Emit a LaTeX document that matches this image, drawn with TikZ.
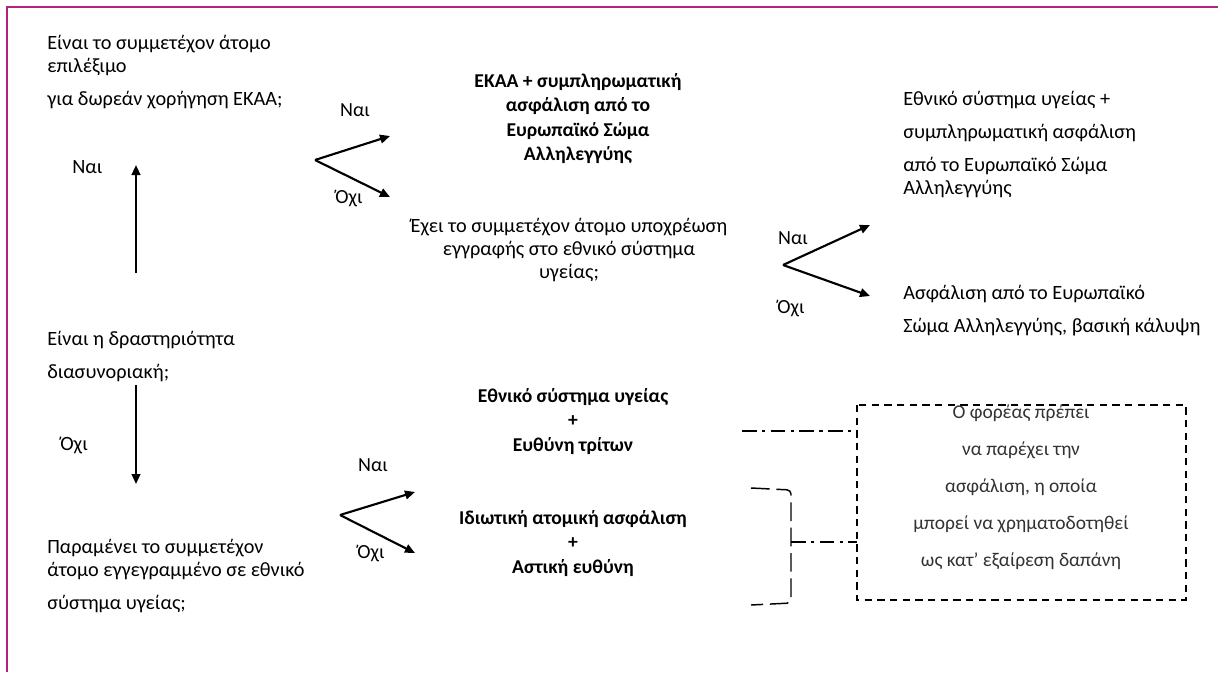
\documentclass[tikz,border=0pt]{standalone}
\usepackage{fontspec}
\setmainfont{Carlito}
\usetikzlibrary{arrows.meta}
\definecolor{framec}{RGB}{176,36,128}
\definecolor{boxtext}{RGB}{50,50,50}
\tikzset{
  txt/.style={inner sep=0pt, anchor=base west, font=\fontsize{15.2}{17.25}\selectfont},
  ctxt/.style={inner sep=0pt, anchor=base, font=\fontsize{15.2}{17.6}\selectfont},
  btxt/.style={inner sep=0pt, anchor=base, font=\fontsize{14.7}{18.4}\selectfont\bfseries},
  lbl/.style={inner sep=0pt, anchor=base, font=\fontsize{15}{17}\selectfont},
  boxtxt/.style={inner sep=0pt, anchor=base, text=boxtext, font=\fontsize{14.6}{27.75}\selectfont},
  arr/.style={line width=1.6pt, -{Triangle[length=7.5pt,width=6.5pt]}},
  dashbox/.style={line width=1.5pt, dash pattern=on 5.5pt off 4pt},
  bracket/.style={line width=1.1pt, dash pattern=on 14pt off 5pt, rounded corners=3pt},
  dashdot/.style={line width=1.1pt, dash pattern=on 11pt off 4pt on 2.5pt off 4pt},
}
\begin{document}
\begin{tikzpicture}[x=0.75pt,y=-0.75pt]
\useasboundingbox (0,0) rectangle (1218,672);
% frame
\draw[framec, line width=1.7pt] (7,672) -- (7,7) -- (1218,7);

% left column texts
\node[txt] (q1) at (47,49) {\begin{tabular}[t]{@{}l@{}}Είναι το συμμετέχον άτομο\\ επιλέξιμο\\[7.5pt] για δωρεάν χορήγηση ΕΚΑΑ;\end{tabular}};
\node[txt] (nai1) at (72,173) {Ναι};
\node[txt] (q2) at (47,345) {\begin{tabular}[t]{@{}l@{}}Είναι η δραστηριότητα\\[7.5pt] διασυνοριακή;\end{tabular}};
\node[txt] (ochi1) at (60,450) {Όχι};
\node[txt] (q3) at (47,553) {\begin{tabular}[t]{@{}l@{}}Παραμένει το συμμετέχον\\ άτομο εγγεγραμμένο σε εθνικό\\[7.5pt] σύστημα υγείας;\end{tabular}};

\coordinate (upS) at (136,273);
\coordinate (upE) at (136,165);
\draw[arr] (upS) -- (upE);
\coordinate (dnS) at (136,385);
\coordinate (dnE) at (136,484);
\draw[arr] (dnS) -- (dnE);

% upper V
\coordinate (v1) at (315,160);
\coordinate (v1a) at (390,136);
\coordinate (v1b) at (390,197);
\draw[arr] (v1) -- (v1a);
\draw[arr] (v1) -- (v1b);
\node[lbl] (v1nai) at (355,116) {Ναι};
\node[lbl] (v1ochi) at (349,203) {Όχι};

\node[btxt] (r1) at (578,87) {\begin{tabular}[t]{@{}c@{}}ΕΚΑΑ + συμπληρωματική\\ ασφάλιση από το\\ Ευρωπαϊκό Σώμα\\ Αλληλεγγύης\end{tabular}};
\node[ctxt] (q4) at (569,232) {\begin{tabular}[t]{@{}c@{}}Έχει το συμμετέχον άτομο υποχρέωση\\ εγγραφής στο εθνικό σύστημα\\ υγείας;\end{tabular}};

% right V
\coordinate (v2) at (783,265);
\coordinate (v2a) at (870,225);
\coordinate (v2b) at (870,296);
\draw[arr] (v2) -- (v2a);
\draw[arr] (v2) -- (v2b);
\node[lbl] (v2nai) at (793,244) {Ναι};
\node[lbl] (v2ochi) at (791,313) {Όχι};

\node[txt] (r2) at (903,105) {\begin{tabular}[t]{@{}l@{}}Εθνικό σύστημα υγείας +\\[7.5pt] συμπληρωματική ασφάλιση\\[7.5pt] από το Ευρωπαϊκό Σώμα\\ Αλληλεγγύης\end{tabular}};
\node[txt] (r3) at (903,299) {\begin{tabular}[t]{@{}l@{}}Ασφάλιση από το Ευρωπαϊκό\\[7.5pt] Σώμα Αλληλεγγύης, βασική κάλυψη\end{tabular}};

% bottom V
\coordinate (v3) at (340,515);
\coordinate (v3a) at (415,492);
\coordinate (v3b) at (415,553);
\draw[arr] (v3) -- (v3a);
\draw[arr] (v3) -- (v3b);
\node[lbl] (v3nai) at (373,471) {Ναι};
\node[lbl] (v3ochi) at (371,558) {Όχι};

\node[btxt] (r4) at (573,402) {\begin{tabular}[t]{@{}c@{}}Εθνικό σύστημα υγείας\\ +\\ Ευθύνη τρίτων\end{tabular}};
\node[btxt] (r5) at (573,524) {\begin{tabular}[t]{@{}c@{}}Ιδιωτική ατομική ασφάλιση\\ +\\ Αστική ευθύνη\end{tabular}};

% dashed box
\draw[dashbox] (857,405) rectangle (1186,600);
\node[boxtxt] (note) at (1021,418) {\begin{tabular}[t]{@{}c@{}}Ο φορέας πρέπει\\ να παρέχει την\\ ασφάλιση, η οποία\\ μπορεί να χρηματοδοτηθεί\\ ως κατ’ εξαίρεση δαπάνη\end{tabular}};

% connectors
\coordinate (d1s) at (742,431);
\coordinate (d1e) at (857,431);
\draw[dashdot] (d1s) -- (d1e);
\coordinate (bt) at (751,488);
\coordinate (bb) at (751,605);
\coordinate (bm) at (791,542);
\coordinate (d2e) at (857,542);
\draw[bracket] (bt) -- (791,490) -- (791,603) -- (bb);
\draw[dashdot] (bm) -- (d2e);
\end{tikzpicture}
\end{document}
